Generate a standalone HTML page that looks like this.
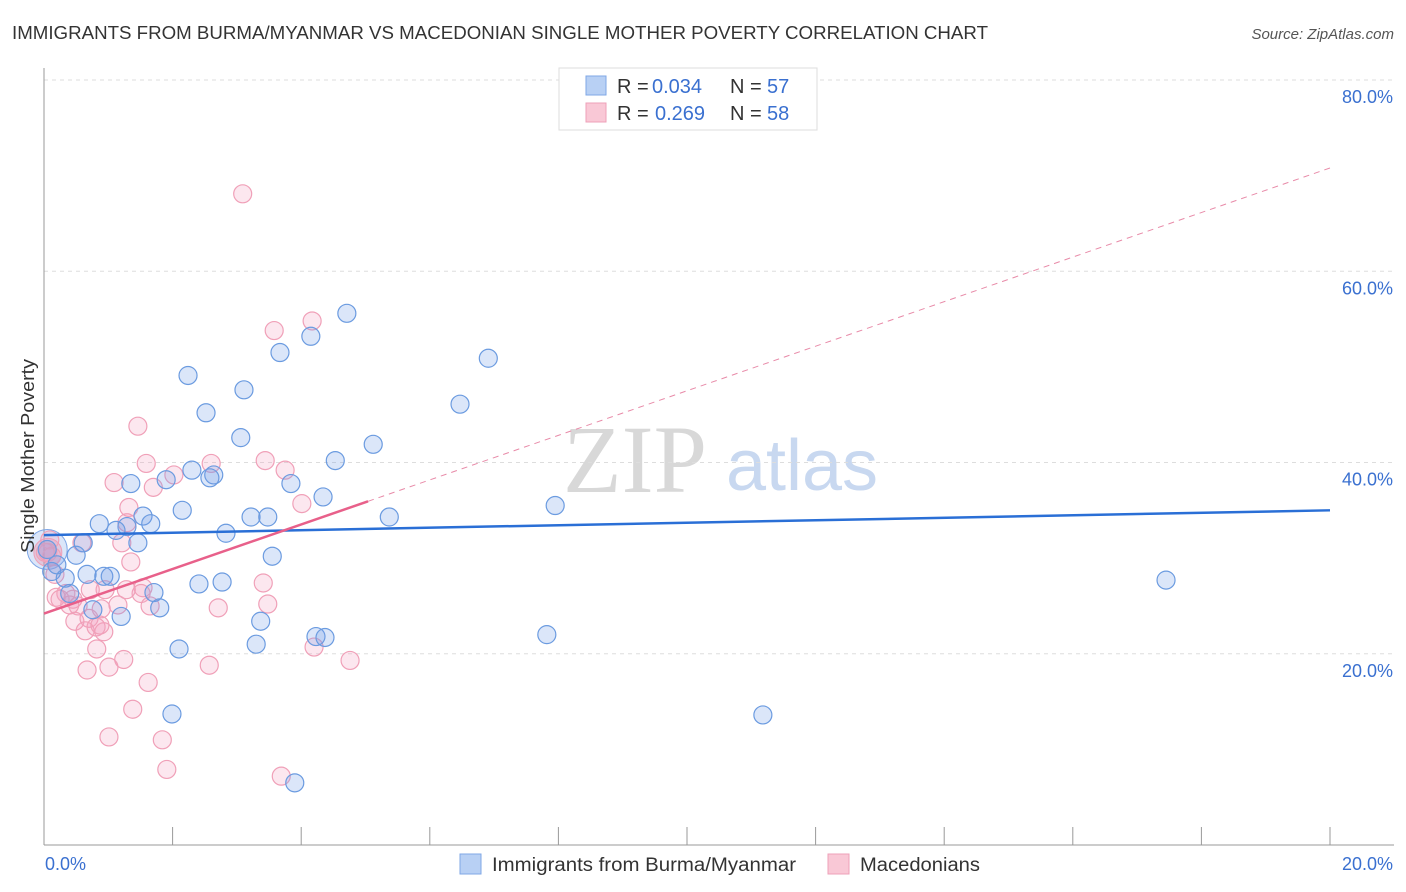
<!DOCTYPE html>
<html><head><meta charset="utf-8"><style>
body{margin:0;background:#fff;font-family:"Liberation Sans",sans-serif;}
svg{display:block}
</style></head><body>
<svg id="chart" width="1406" height="892" viewBox="0 0 1406 892" xmlns="http://www.w3.org/2000/svg">
<text x="12" y="39" font-size="18" fill="#333" textLength="976" lengthAdjust="spacingAndGlyphs">IMMIGRANTS FROM BURMA/MYANMAR VS MACEDONIAN SINGLE MOTHER POVERTY CORRELATION CHART</text>
<text x="1394" y="39" font-size="15" fill="#555" font-style="italic" text-anchor="end">Source: ZipAtlas.com</text>
<g>
<text x="635" y="492" font-size="96" font-family="Liberation Serif,serif" fill="#d8d8d8" text-anchor="middle">ZIP</text>
<text x="802" y="490" font-size="72" fill="#c8d8f0" text-anchor="middle">atlas</text>
</g>
<g id="grid"></g>
<g id="axes"></g>
<g id="marks"></g>
<text transform="translate(34,456) rotate(-90)" font-size="18" fill="#333" text-anchor="middle" textLength="194" lengthAdjust="spacingAndGlyphs">Single Mother Poverty</text>
<g>
<rect x="559" y="68" width="258" height="62" fill="#fff" stroke="#ddd"/>
<rect x="586" y="76" width="20" height="19" fill="#b8d0f4" stroke="#7fa7e6"/>
<text y="93" font-size="20" fill="#333"><tspan x="617">R =</tspan><tspan x="652" fill="#3a70d0">0.034</tspan><tspan x="730">N =</tspan><tspan x="767" fill="#3a70d0">57</tspan></text>
<rect x="586" y="103" width="20" height="19" fill="#f9c8d6" stroke="#eea0b8"/>
<text y="120" font-size="20" fill="#333"><tspan x="617">R =</tspan><tspan x="655" fill="#3a70d0">0.269</tspan><tspan x="730">N =</tspan><tspan x="767" fill="#3a70d0">58</tspan></text>
</g>
<g>
<rect x="460" y="854" width="21" height="20" fill="#b8d0f4" stroke="#7fa7e6"/>
<text x="492" y="871" font-size="19" fill="#333" textLength="304" lengthAdjust="spacingAndGlyphs">Immigrants from Burma/Myanmar</text>
<rect x="828" y="854" width="21" height="20" fill="#f9c8d6" stroke="#eea0b8"/>
<text x="860" y="871" font-size="19" fill="#333" textLength="120" lengthAdjust="spacingAndGlyphs">Macedonians</text>
</g>
</svg>
<script>
const yTicks=[20,40,60,80];
const yTickLabels=["20.0%","40.0%","60.0%","80.0%"];
const xTickCount=10;
const xEndLabels=["0.0%","20.0%"];
const blueX=[3.55,4.71,3.67,4.15,6.91,2.24,3.11,2.52,6.47,3.06,5.12,4.53,2.30,1.90,2.64,2.58,1.35,3.84,4.34,7.95,2.15,1.54,1.66,0.86,1.29,3.22,3.48,5.37,1.12,2.83,1.46,0.61,0.50,0.05,0.12,0.33,0.67,0.93,1.03,0.40,1.71,2.41,2.77,1.80,0.76,1.20,3.37,3.30,2.10,4.23,4.37,7.82,17.45,1.99,11.18,3.90,0.20];
const blueY=[30.2,55.6,51.5,53.2,50.9,49.1,47.6,45.2,46.1,42.6,41.9,40.2,39.2,38.2,38.7,38.4,37.8,37.8,36.4,35.5,35.0,34.4,33.6,33.6,33.3,34.3,34.3,34.3,32.9,32.6,31.6,31.6,30.3,30.9,28.6,27.9,28.3,28.1,28.1,26.3,26.4,27.3,27.5,24.8,24.6,23.9,23.4,21.0,20.5,21.8,21.7,22.0,27.7,13.7,13.6,6.5,29.3];
const pinkX=[3.09,4.17,3.58,1.46,1.59,2.60,3.44,3.75,1.09,1.70,2.02,4.01,1.32,1.29,0.09,1.21,0.59,0.06,1.35,0.12,0.19,0.34,0.45,0.53,0.89,0.72,1.54,1.51,3.41,1.15,1.65,2.71,3.48,0.48,0.70,0.64,0.81,0.93,0.82,1.01,0.67,1.24,1.62,1.38,1.84,1.01,1.91,3.69,2.57,4.20,4.76,1.28,0.40,0.25,0.87,0.02,0.17,0.95];
const pinkY=[68.1,54.8,53.8,43.8,39.9,39.9,40.2,39.2,37.9,37.4,38.7,35.7,35.3,33.7,31.9,31.6,31.6,30.6,29.6,30.2,25.9,26.3,25.7,25.0,24.7,26.7,26.9,26.3,27.4,25.1,25.0,24.8,25.2,23.4,23.7,22.4,22.8,22.3,20.5,18.6,18.3,19.4,17.0,14.2,11.0,11.3,7.9,7.2,18.8,20.7,19.3,26.7,25.1,25.7,23.0,30.6,28.3,26.7];
const blueTrend=[32.4,35.0];
const pinkTrend=[24.2,70.8];
const pinkSolidEnd=5.04;

const NS="http://www.w3.org/2000/svg";
const X0=44,X1=1330,Y0=845,Y80=80;
const sx=v=>X0+(v/20)*(X1-X0);
const sy=v=>Y0-(v/80)*(Y0-Y80);
function mk(tag,attrs,parent){const e=document.createElementNS(NS,tag);for(const k in attrs)e.setAttribute(k,attrs[k]);parent.appendChild(e);return e;}
const grid=document.getElementById('grid'),axes=document.getElementById('axes'),marks=document.getElementById('marks');
yTicks.forEach((t,i)=>{
 const l=mk('line',{x1:X0,x2:1394,y1:sy(t),y2:sy(t),stroke:'#ddd','stroke-dasharray':'4,4'},grid);
 
 
 const tx=mk('text',{x:1393,y:sy(t)+23,'font-size':18,fill:'#3a70d0','text-anchor':'end'},axes);
 tx.textContent=yTickLabels[i];
 
 
});
const ya=mk('line',{x1:X0,x2:X0,y1:68,y2:Y0,stroke:'#999'},axes);


const xa=mk('line',{x1:X0,x2:1394,y1:Y0,y2:Y0,stroke:'#999'},axes);


for(let i=0;i<=xTickCount;i++){
 const t=mk('line',{x1:sx(i*2),x2:sx(i*2),y1:Y0,y2:Y0-18,stroke:'#999'},axes);
 
 
}
const xl0=mk('text',{x:45,y:870,'font-size':18,fill:'#3a70d0'},axes);xl0.textContent=xEndLabels[0];


const xl1=mk('text',{x:1393,y:870,'font-size':18,fill:'#3a70d0','text-anchor':'end'},axes);xl1.textContent=xEndLabels[1];


const bb=mk('circle',{cx:sx(blueX[33]),cy:sy(blueY[33]),r:20,fill:'rgba(110,155,230,0.25)',stroke:'#7fa7e6'},marks);


const pb=mk('circle',{cx:sx(pinkX[17]),cy:sy(pinkY[17]),r:14,fill:'rgba(235,140,170,0.35)',stroke:'#eea0b8'},marks);


pinkX.forEach((x,i)=>{
 const c=mk('circle',{cx:sx(x),cy:sy(pinkY[i]),r:9,fill:'rgba(245,160,190,0.25)',stroke:'#f0a0b8','stroke-width':1.2},marks);
 
 
});
blueX.forEach((x,i)=>{
 const c=mk('circle',{cx:sx(x),cy:sy(blueY[i]),r:9,fill:'rgba(110,155,230,0.25)',stroke:'#6b9be0','stroke-width':1.2},marks);
 
 
});
const bl=mk('line',{x1:sx(0),y1:sy(blueTrend[0]),x2:sx(20),y2:sy(blueTrend[1]),stroke:'#2a6fd6','stroke-width':2.5},marks);


const pAt=x=>pinkTrend[0]+(pinkTrend[1]-pinkTrend[0])*x/20;
const pd=mk('line',{x1:sx(pinkSolidEnd),y1:sy(pAt(pinkSolidEnd)),x2:sx(20),y2:sy(pinkTrend[1]),stroke:'#e88aa8','stroke-width':1,'stroke-dasharray':'6,5'},marks);


const ps=mk('line',{x1:sx(0),y1:sy(pinkTrend[0]),x2:sx(pinkSolidEnd),y2:sy(pAt(pinkSolidEnd)),stroke:'#e8608a','stroke-width':2.5},marks);


</script>
</body></html>
